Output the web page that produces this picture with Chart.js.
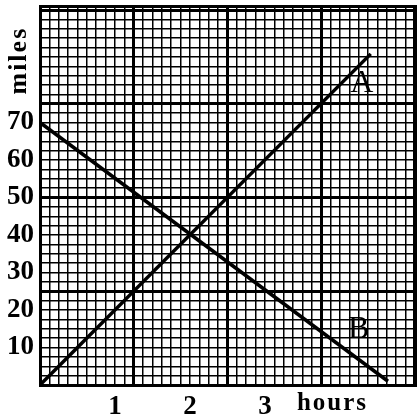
<!DOCTYPE html>
<html>
<head>
<meta charset="utf-8">
<script src="https://cdn.jsdelivr.net/npm/chart.js@4"></script>
<style>
  html, body { margin: 0; padding: 0; background: #fff; }
  #grafico { display: block; }
</style>
</head>
<body>
<canvas id="grafico" width="417" height="416"></canvas>
<script>
// line A: 20 miles an hour from 0, line B: 15 miles an hour back from 70
const horasA = [0, 4.41];
const milhasA = [0, 88.3];
const horasB = [0, 4.64];
const milhasB = [70, 1];

const rotulosY = [10, 20, 30, 40, 50, 60, 70];
const rotulosX = [1, 2, 3];

const maxHoras = 5.027;
const maxMilhas = 101.07;
const passoX = 0.125;   // papel milimetrado: 8 quadradinhos por hora
const passoY = 2.5;     // 4 quadradinhos a cada 10 milhas

const fonteNum = { family: '"Liberation Serif", "DejaVu Serif", serif', size: 27, weight: 'bold' };

function gradeTicks(passo, max) {
    const t = [];
    for (let i = 0; i * passo <= max + 1e-9; i++) t.push({ value: +(i * passo).toFixed(4) });
    t.push({ value: max });
    return t;
}

function grossa(v, cada, max) {
    if (Math.abs(v - max) < 1e-6) return 3;
    const r = v / cada;
    return Math.abs(r - Math.round(r)) < 1e-6 ? 3 : 1.5;
}

const textos = {
    id: 'textos',
    afterDraw(chart) {
        const ctx = chart.ctx;
        const x = chart.scales.x, y = chart.scales.y;
        ctx.save();
        ctx.fillStyle = '#000';
        ctx.textAlign = 'center';
        ctx.textBaseline = 'middle';

        ctx.font = 'bold 25px "Liberation Serif", serif';
        ctx.letterSpacing = '2px';
        ctx.fillText('hours', x.getPixelForValue(3.9), 404);

        ctx.save();
        ctx.translate(19, y.getPixelForValue(86.5));
        ctx.rotate(-Math.PI / 2);
        ctx.font = 'bold 26px "Liberation Serif", serif';
        ctx.letterSpacing = '2px';
        ctx.fillText('miles', 0, 0);
        ctx.restore();

        ctx.letterSpacing = '0px';
        ctx.font = '32px "Liberation Serif", serif';
        ctx.fillText('A', x.getPixelForValue(4.29), y.getPixelForValue(80.3));
        ctx.fillText('B', x.getPixelForValue(4.25), y.getPixelForValue(14.8));
        ctx.restore();
    }
};

new Chart(document.getElementById('grafico').getContext('2d'), {
    type: 'line',
    data: {
        datasets: [
            {
                label: 'A',
                data: horasA.map((h, i) => ({ x: h, y: milhasA[i] })),
                borderColor: '#000',
                borderWidth: 3.5,
                pointRadius: 0,
                fill: false,
            },
            {
                label: 'B',
                data: horasB.map((h, i) => ({ x: h, y: milhasB[i] })),
                borderColor: '#000',
                borderWidth: 3.5,
                pointRadius: 0,
                fill: false,
            },
        ],
    },
    options: {
        responsive: false,
        devicePixelRatio: 1,
        animation: false,
        layout: { padding: { top: 6, right: 0, left: 0, bottom: 0 } },
        plugins: {
            legend: { display: false },
            tooltip: { enabled: false },
        },
        scales: {
            x: {
                type: 'linear',
                min: 0,
                max: maxHoras,
                afterFit: s => { s.height = 31; s.paddingLeft = 0; s.paddingRight = 0; },
                afterBuildTicks: s => { s.ticks = gradeTicks(passoX, maxHoras); },
                grid: {
                    color: '#000',
                    drawTicks: false,
                    lineWidth: c => grossa(c.tick ? c.tick.value : 0, 1.25, maxHoras),
                },
                border: { color: '#000', width: 3 },
                ticks: {
                    autoSkip: false,
                    maxRotation: 0,
                    padding: 6,
                    color: '#000',
                    font: fonteNum,
                    callback: v => rotulosX.includes(v) ? String(v) : '',
                },
            },
            y: {
                type: 'linear',
                min: 0,
                max: maxMilhas,
                afterFit: s => { s.width = 40; s.paddingTop = 0; s.paddingBottom = 0; },
                afterBuildTicks: s => { s.ticks = gradeTicks(passoY, maxMilhas); },
                grid: {
                    color: '#000',
                    drawTicks: false,
                    lineWidth: c => grossa(c.tick ? c.tick.value : 0, 25, maxMilhas),
                },
                border: { color: '#000', width: 3 },
                ticks: {
                    autoSkip: false,
                    padding: 6,
                    color: '#000',
                    font: fonteNum,
                    callback: v => rotulosY.includes(v) ? String(v) : '',
                },
            },
        },
    },
    plugins: [textos],
});
</script>
</body>
</html>
